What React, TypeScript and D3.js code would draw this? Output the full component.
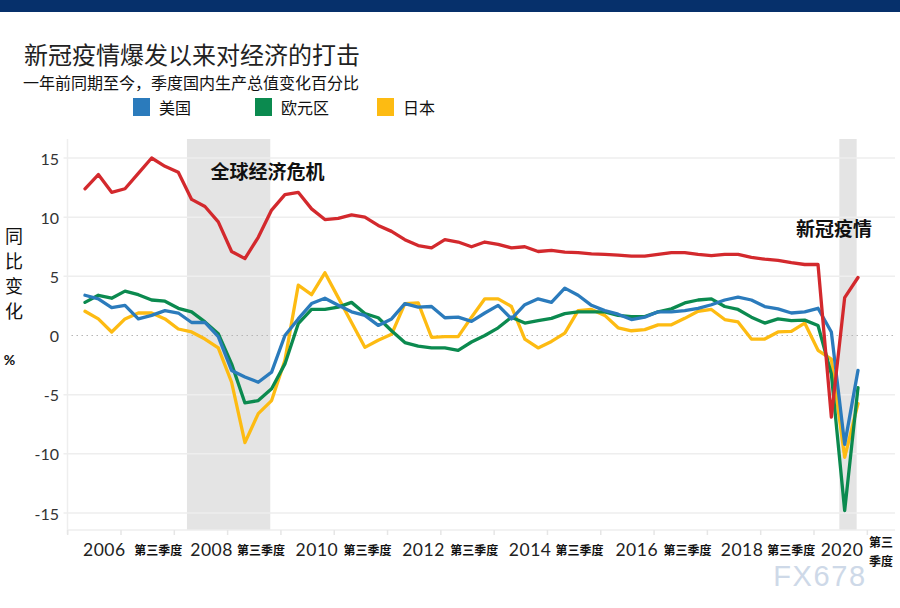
import React from "react";
import * as d3 from "d3";

// Quarters 2006Q1 .. 2020Q3 (index 0..58)
const quarterLabels: string[] = [];
for (let y = 2006; y <= 2020; y++) for (let q = 1; q <= 4; q++) if (!(y === 2020 && q === 4)) quarterLabels.push(`${y}Q${q}`);

const china = [
  12.4, 13.6, 12.1, 12.4,
  13.7, 15.0, 14.3, 13.8,
  11.5, 10.9, 9.6, 7.1,
  6.5, 8.3, 10.6, 11.9,
  12.1, 10.7, 9.8, 9.9,
  10.2, 10.0, 9.3, 8.8,
  8.1, 7.6, 7.4, 8.1,
  7.9, 7.5, 7.9, 7.7,
  7.4, 7.5, 7.1, 7.2,
  7.05, 7.0, 6.9, 6.85,
  6.8, 6.7, 6.7, 6.85,
  7.0, 7.0, 6.85, 6.75,
  6.85, 6.85, 6.6, 6.45,
  6.35, 6.15, 6.0, 6.0,
  -6.9, 3.2, 4.9,
];

const us = [
  3.4, 3.1, 2.35, 2.55,
  1.4, 1.7, 2.1, 1.9,
  1.1, 1.1, -0.1, -2.95,
  -3.5, -3.95, -3.1, 0.0,
  1.4, 2.7, 3.15, 2.55,
  2.0, 1.7, 0.85, 1.4,
  2.7, 2.4, 2.45, 1.5,
  1.55, 1.2, 1.9, 2.55,
  1.4, 2.6, 3.1, 2.8,
  4.0, 3.4, 2.55, 2.1,
  1.8, 1.35, 1.55, 2.0,
  2.0, 2.1, 2.3, 2.6,
  3.0, 3.25, 3.0, 2.45,
  2.25, 1.9, 2.0, 2.3,
  0.3, -9.2, -2.95,
];

const euro = [
  2.8, 3.4, 3.15, 3.75,
  3.45, 3.0, 2.9, 2.3,
  2.0, 1.15, 0.15, -2.4,
  -5.7, -5.5, -4.5, -2.4,
  1.0, 2.2, 2.2, 2.4,
  2.8, 1.85, 1.5, 0.4,
  -0.6, -0.9, -1.05, -1.05,
  -1.25, -0.55, 0.0, 0.65,
  1.55, 1.05, 1.25, 1.45,
  1.85, 2.0, 2.0, 2.0,
  1.7, 1.6, 1.6, 2.0,
  2.25, 2.75, 3.0, 3.1,
  2.45, 2.2, 1.55, 1.05,
  1.4, 1.25, 1.3, 0.85,
  -3.25, -14.8, -4.4,
];

const japan = [
  2.05, 1.4, 0.3, 1.4,
  1.9, 1.9, 1.4, 0.55,
  0.3, -0.3, -1.05, -3.95,
  -9.05, -6.6, -5.5, -2.1,
  4.25, 3.45, 5.3, 3.2,
  1.1, -1.0, -0.4, 0.1,
  2.7, 2.75, -0.15, -0.1,
  -0.1, 1.55, 3.1, 3.1,
  2.45, -0.3, -1.05, -0.5,
  0.2, 2.1, 2.2, 1.7,
  0.65, 0.4, 0.5, 0.9,
  0.9, 1.45, 2.05, 2.2,
  1.35, 1.15, -0.3, -0.3,
  0.3, 0.35, 1.05, -1.25,
  -2.0, -10.3, -5.75,
];

const legendNames = ["美国", "欧元区", "日本"];
const yTicks = [15, 10, 5, 0, -5, -10, -15];
const yearLabels = ["2006", "2008", "2010", "2012", "2014", "2016", "2018", "2020"];
const yearLabelQ = [1.45, 9.5, 17.4, 25.4, 33.4, 41.4, 49.3, 56.8];
const q3Label = "第三季度";
const q3LabelQ = [5.5, 13.2, 21.2, 29.2, 37.1, 45.2, 53.0];
const tickQ = [-1.3, 2.7, 6.7, 10.7, 14.7, 18.7, 22.7, 26.7, 30.7, 34.7, 38.7, 42.7, 46.7, 50.7, 54.7, 58.7];
const shadeQ: [number, number][] = [[7.65, 13.9], [56.6, 57.9]];

const C_US = "#2b7bbc";
const C_EU = "#0b8a4f";
const C_JP = "#fdbb12";
const C_CN = "#d3292d";

export default function App() {
  const W = 900, H = 608;
  const plotLeft = 67.5, plotRight = 895, plotTop = 139, plotBottom = 530;
  const x = d3.scaleLinear().domain([0, 58]).range([85, 858]);
  const y = d3.scaleLinear().domain([-15, 15]).range([513, 158]);
  const line = d3.line<number>().x((_, i) => x(i)).y((d) => y(d));

  const cjk = "'Noto Sans CJK SC', sans-serif";
  const lat = "Lato, 'Open Sans', sans-serif";

  const series = [
    { data: japan, color: C_JP },
    { data: euro, color: C_EU },
    { data: us, color: C_US },
    { data: china, color: C_CN },
  ];
  const legendColors = [C_US, C_EU, C_JP];
  const legendX = [133, 255, 377];

  return (
    <svg width={W} height={H} style={{ position: "absolute", left: 0, top: 0, background: "#fff" }}>
      <rect x={0} y={0} width={W} height={H} fill="#fff" />
      <rect x={0} y={0} width={W} height={12} fill="#06306b" />

      <text x={24} y={53} fontFamily={cjk} fontSize={24} fill="#222" dominantBaseline="central">
        新冠疫情爆发以来对经济的打击
      </text>
      <text x={23} y={82} fontFamily={cjk} fontSize={16} fill="#111" dominantBaseline="central">
        一年前同期至今，季度国内生产总值变化百分比
      </text>

      {legendNames.map((n, i) => (
        <g key={n}>
          <rect x={legendX[i]} y={98} width={17} height={18} fill={legendColors[i]} />
          <text x={legendX[i] + 26} y={107} fontFamily={cjk} fontSize={16} fill="#111" dominantBaseline="central">
            {n}
          </text>
        </g>
      ))}

      {/* shading */}
      {shadeQ.map(([a, b], i) => (
        <rect key={i} x={x(a)} y={plotTop} width={x(b) - x(a)} height={plotBottom - plotTop} fill="#e4e4e4" />
      ))}

      {/* gridlines */}
      {yTicks.filter((t) => t !== 0).map((t) => (
        <line key={t} x1={plotLeft - 4} x2={plotRight} y1={y(t)} y2={y(t)} stroke="#eeeeee" strokeWidth={1.5} />
      ))}
      <line x1={plotLeft + 4} x2={plotRight} y1={y(0)} y2={y(0)} stroke="#b5b5b5" strokeWidth={1} strokeDasharray="1.5,3.5" />

      {/* axes */}
      <line x1={plotLeft} x2={plotLeft} y1={plotTop} y2={plotBottom + 4} stroke="#eeeeee" strokeWidth={1.5} />
      <line x1={plotLeft} x2={plotRight} y1={plotBottom} y2={plotBottom} stroke="#eeeeee" strokeWidth={1.5} />
      {tickQ.map((q, i) => (
        <line key={i} x1={x(q)} x2={x(q)} y1={plotBottom} y2={plotBottom + 5} stroke="#e6e6e6" strokeWidth={1.5} />
      ))}

      {yTicks.map((t) => (
        <text key={t} x={59} y={y(t)} textAnchor="end" dominantBaseline="central" fontFamily={lat} fontSize={16} fill="#333">
          {t}
        </text>
      ))}

      {yearLabels.map((l, i) => (
        <text key={l} x={x(yearLabelQ[i])} y={549.5} textAnchor="middle" dominantBaseline="central" fontFamily={lat} fontSize={17.5} letterSpacing={0.5} fill="#222">
          {l}
        </text>
      ))}
      {q3LabelQ.map((q, i) => (
        <text key={i} x={x(q)} y={549.5} textAnchor="middle" dominantBaseline="central" fontFamily={cjk} fontSize={12} fontWeight={700} fill="#111">
          {q3Label}
        </text>
      ))}
      <text x={869} y={541} dominantBaseline="central" fontFamily={cjk} fontSize={12} fontWeight={700} fill="#111">
        {q3Label.slice(0, 2)}
      </text>
      <text x={869} y={560} dominantBaseline="central" fontFamily={cjk} fontSize={12} fontWeight={700} fill="#111">
        {q3Label.slice(2)}
      </text>

      {/* y axis title */}
      {["同", "比", "变", "化"].map((c, i) => (
        <text key={c} x={14} y={234.5 + i * 25} textAnchor="middle" dominantBaseline="central" fontFamily={cjk} fontSize={18} fill="#111">
          {c}
        </text>
      ))}
      <text x={9.5} y={359} textAnchor="middle" dominantBaseline="central" fontFamily={lat} fontSize={14} fontWeight={700} fill="#111">
        %
      </text>

      {/* annotations */}
      <text x={267.5} y={170} textAnchor="middle" dominantBaseline="central" fontFamily={cjk} fontSize={19} fontWeight={700} fill="#111">
        全球经济危机
      </text>
      <text x={834} y={227} textAnchor="middle" dominantBaseline="central" fontFamily={cjk} fontSize={19} fontWeight={700} fill="#111">
        新冠疫情
      </text>

      {/* lines */}
      {series.map((s, i) => (
        <path key={i} d={line(s.data) || ""} fill="none" stroke={s.color} strokeWidth={3.3} strokeLinejoin="round" strokeLinecap="round" />
      ))}

      {/* watermark */}
      <text x={820} y={576} textAnchor="middle" dominantBaseline="central" fontFamily="'Liberation Sans', Arial, sans-serif" fontSize={29} letterSpacing={1.6} fill="#c9d5e6" opacity={0.9}>
        FX678
      </text>
    </svg>
  );
}
